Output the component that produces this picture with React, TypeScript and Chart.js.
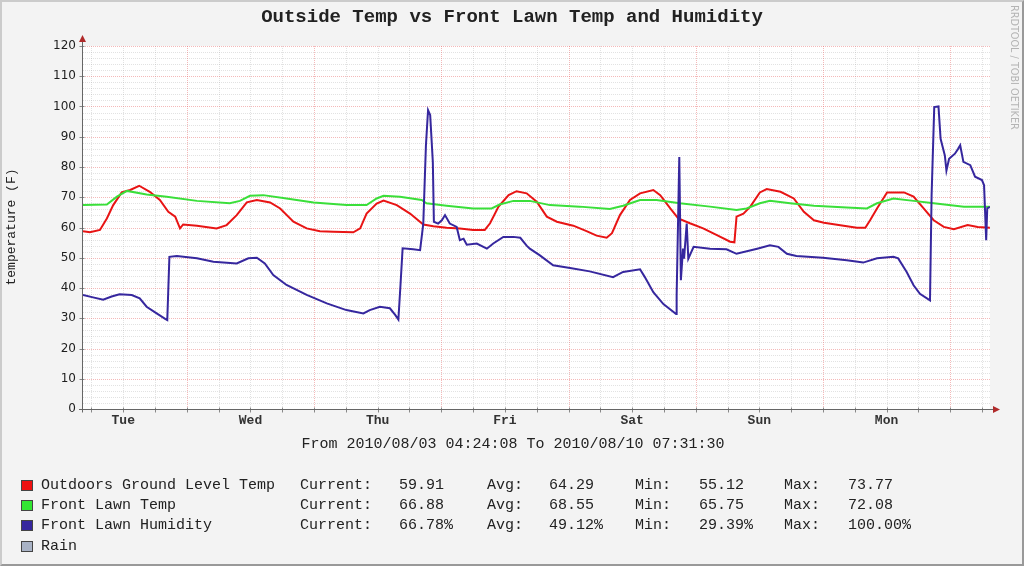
import React, { useEffect, useRef } from "react";
import { Chart, registerables } from "chart.js";

Chart.register(...registerables);

// ---------- text ----------
const TITLE = "Outside Temp vs Front Lawn Temp and Humidity";
const Y_TITLE = "temperature (F)";
const PERIOD = "From 2010/08/03 04:24:08 To 2010/08/10 07:31:30";
const WATERMARK = "RRDTOOL / TOBI OETIKER";

// ---------- axes ----------
const DAY_LABELS = ["Tue", "Wed", "Thu", "Fri", "Sat", "Sun", "Mon"];
const SPAN_HOURS = 171.12; // 2010/08/03 04:24:08 -> 2010/08/10 07:31:30
const FIRST_NOON = 7.598; // hours from start to Tue 12:00
const FIRST_6H = 1.598; // hours from start to Tue 06:00
const Y_MIN = 0;
const Y_MAX = 120;
const Y_MAJOR = 10;
const Y_MINOR = 2;

// ---------- series (hours since start, value) ----------
const redHours = [0, 1.3, 3.2, 4.5, 5.7, 7.3, 8.9, 10.6, 12.6, 14.5,
  16.1, 17.4, 18.3, 18.9, 21.5, 25.2, 27.1, 29.0, 30.9, 32.8,
  35.3, 37.2, 39.7, 42.2, 44.7, 47.2, 51.0, 52.3, 53.5, 55.4,
  56.7, 59.2, 61.7, 64.2, 66.1, 68.6, 71.1, 73.6, 75.8, 76.8,
  78.4, 80.3, 81.8, 83.7, 85.6, 87.5, 89.4, 92.5, 95.0, 96.9,
  98.8, 99.8, 101.3, 103.2, 105.1, 107.6, 108.9, 110.8, 112.3, 114.5,
  117.0, 119.6, 122.1, 122.9, 123.3, 124.6, 125.9, 127.7, 129.0, 131.6,
  134.1, 136.0, 137.9, 139.8, 143.5, 146.0, 147.6, 148.5, 149.8, 151.7,
  154.9, 156.7, 158.6, 160.5, 162.4, 164.3, 166.9, 168.8, 171.1];
const redValues = [58.8, 58.4, 59.2, 63.0, 67.4, 71.6, 72.4, 73.8, 71.8, 69.1,
  65.2, 63.6, 59.7, 61.0, 60.6, 59.7, 60.8, 64.1, 68.3, 69.1,
  68.3, 66.3, 61.9, 59.7, 58.8, 58.6, 58.4, 59.7, 64.6, 67.9,
  68.9, 67.4, 64.6, 61.0, 60.4, 59.9, 59.7, 59.2, 59.2, 61.4,
  66.9, 70.7, 72.0, 71.3, 68.5, 63.6, 61.9, 60.6, 58.8, 57.3,
  56.6, 58.1, 64.1, 69.1, 71.3, 72.4, 70.7, 66.3, 63.0, 61.4,
  59.7, 57.5, 55.3, 55.1, 63.6, 64.6, 66.9, 71.6, 72.7, 71.8,
  69.6, 65.2, 62.4, 61.6, 60.6, 59.9, 59.9, 62.4, 66.3, 71.6,
  71.6, 70.2, 66.3, 62.4, 60.2, 59.4, 60.8, 60.2, 59.9];

const greenHours = [0, 4.5, 6.4, 8.3, 12.0, 15.8, 21.5, 27.7, 29.6, 31.5,
  34.0, 38.4, 43.5, 49.7, 53.5, 55.4, 56.7, 59.8, 63.9, 64.8,
  68.6, 73.6, 77.1, 78.6, 81.2, 84.3, 88.1, 93.7, 99.4, 101.9,
  105.1, 108.2, 112.6, 118.3, 123.3, 125.2, 127.7, 129.6, 133.4, 137.9,
  144.1, 147.9, 149.8, 152.9, 156.7, 160.5, 166.2, 171.1];
const greenValues = [67.4, 67.6, 70.2, 72.1, 70.9, 70.2, 68.8, 68.0, 68.8, 70.5,
  70.7, 69.6, 68.3, 67.4, 67.4, 69.6, 70.5, 70.2, 69.1, 68.0,
  67.2, 66.3, 66.3, 67.6, 68.8, 68.8, 67.4, 66.9, 66.1, 67.2,
  69.1, 69.1, 68.0, 66.9, 65.8, 66.3, 68.0, 68.8, 68.0, 67.2,
  66.6, 66.3, 68.0, 69.6, 68.8, 68.0, 66.9, 66.9];

const blueHours = [0, 1.9, 3.8, 5.4, 6.9, 9.2, 10.7, 12.0, 13.9, 15.5,
  15.9, 16.3, 17.7, 21.5, 24.6, 29.0, 31.2, 32.8, 34.3, 35.9,
  38.4, 42.2, 46.0, 49.7, 52.9, 54.1, 56.0, 57.9, 58.9, 59.5,
  59.9, 60.3, 62.3, 63.6, 64.2, 64.7, 65.1, 65.5, 66.0, 66.2,
  67.0, 67.7, 68.3, 69.2, 70.5, 71.1, 71.8, 72.4, 74.3, 76.2,
  77.4, 79.3, 81.2, 82.5, 83.7, 84.3, 86.2, 88.7, 91.9, 95.6,
  100.0, 101.9, 105.1, 106.0, 107.6, 109.5, 111.9, 112.0, 112.5, 112.8,
  113.2, 113.4, 113.9, 114.2, 115.2, 118.3, 121.4, 123.3, 127.2, 129.6,
  131.2, 132.8, 134.6, 139.6, 144.1, 147.2, 149.8, 152.9, 153.8, 155.4,
  156.7, 157.9, 159.8, 160.1, 160.6, 161.4, 161.8, 162.6, 162.9, 163.4,
  164.5, 165.1, 165.5, 165.8, 166.1, 167.4, 168.3, 169.6, 170.0, 170.4,
  170.6, 171.1];
const blueValues = [37.7, 36.9, 36.1, 37.2, 37.9, 37.7, 36.6, 33.8, 31.6, 29.8,
  29.4, 50.3, 50.6, 49.8, 48.7, 48.1, 49.8, 50.0, 48.1, 44.3,
  41.0, 37.7, 34.9, 32.7, 31.6, 32.7, 33.8, 33.3, 31.1, 29.6,
  41.0, 53.1, 52.8, 52.5, 61.3, 87.2, 98.8, 97.2, 81.7, 61.9,
  61.3, 62.4, 64.1, 61.3, 60.2, 55.8, 56.3, 54.3, 54.7, 53.0,
  54.7, 56.9, 56.9, 56.6, 54.0, 53.0, 50.8, 47.5, 46.6, 45.5,
  43.6, 45.3, 46.2, 43.6, 38.6, 34.7, 31.4, 37.5, 83.3, 42.6,
  53.0, 49.7, 61.3, 49.7, 53.6, 53.0, 52.8, 51.3, 53.0, 54.1,
  53.6, 51.3, 50.6, 50.0, 49.2, 48.4, 49.8, 50.3, 49.8, 45.3,
  40.9, 38.1, 35.9, 70.5, 99.8, 100.0, 89.3, 83.8, 78.8, 82.7,
  84.4, 86.0, 87.2, 84.4, 81.7, 80.6, 76.8, 75.7, 74.0, 55.8,
  66.3, 66.8];

// ---------- legend ----------
const LEGEND_NAMES = ["Outdoors Ground Level Temp", "Front Lawn Temp", "Front Lawn Humidity", "Rain"];
const LEGEND_COLORS = ["#ee1111", "#33e633", "#36279e", "#a9b3c6"];
const LEGEND_CURRENT = ["59.91", "66.88", "66.78%"];
const LEGEND_AVG = ["64.29", "68.55", "49.12%"];
const LEGEND_MIN = ["55.12", "65.75", "29.39%"];
const LEGEND_MAX = ["73.77", "72.08", "100.00%"];

const LINE_COLORS = ["#e81414", "#3adf3a", "#36279e"];
const MAJOR_GRID = "rgba(230, 100, 100, 0.45)";
const MINOR_GRID = "rgba(165, 165, 165, 0.32)";
const AXIS_COLOR = "#666666";
const ARROW_COLOR = "#b02a2a";

const toPoints = (hs: number[], vs: number[]) => hs.map((h, i) => ({ x: h, y: vs[i] }));

const rrdPlugin = {
  id: "rrdGrid",
  beforeDatasetsDraw(chart: any) {
    const { ctx, chartArea: a, scales } = chart;
    const x = scales.x;
    const y = scales.y;
    ctx.save();
    ctx.fillStyle = "#ffffff";
    ctx.fillRect(a.left, a.top, a.right - a.left, a.bottom - a.top);
    ctx.lineWidth = 1;
    ctx.setLineDash([1, 1]);
    const drawH = (v: number, color: string) => {
      const py = Math.round(y.getPixelForValue(v)) + 0.5;
      ctx.strokeStyle = color;
      ctx.beginPath();
      ctx.moveTo(a.left, py);
      ctx.lineTo(a.right, py);
      ctx.stroke();
    };
    const drawV = (h: number, color: string) => {
      const px = Math.round(x.getPixelForValue(h)) + 0.5;
      ctx.strokeStyle = color;
      ctx.beginPath();
      ctx.moveTo(px, a.top);
      ctx.lineTo(px, a.bottom);
      ctx.stroke();
    };
    for (let v = Y_MIN + Y_MINOR; v <= Y_MAX; v += Y_MINOR) {
      if (v % Y_MAJOR !== 0) drawH(v, MINOR_GRID);
    }
    for (let i = 0; FIRST_6H + 6 * i < SPAN_HOURS; i++) {
      if (i % 4 !== 3) drawV(FIRST_6H + 6 * i, MINOR_GRID);
    }
    for (let v = Y_MIN + Y_MAJOR; v <= Y_MAX; v += Y_MAJOR) drawH(v, MAJOR_GRID);
    for (let i = 3; FIRST_6H + 6 * i < SPAN_HOURS; i += 4) drawV(FIRST_6H + 6 * i, MAJOR_GRID);
    ctx.restore();
  },
  afterDatasetsDraw(chart: any) {
    const { ctx, chartArea: a, scales } = chart;
    const x = scales.x;
    const y = scales.y;
    ctx.save();
    ctx.setLineDash([]);
    ctx.lineWidth = 1;
    const y0 = Math.round(y.getPixelForValue(Y_MIN)) + 0.5;
    const x0 = Math.round(a.left) - 0.5;
    // tick marks
    ctx.strokeStyle = "#888888";
    for (let v = Y_MIN; v <= Y_MAX; v += Y_MAJOR) {
      const py = Math.round(y.getPixelForValue(v)) + 0.5;
      ctx.beginPath();
      ctx.moveTo(x0 - 3, py);
      ctx.lineTo(x0 + 2, py);
      ctx.stroke();
    }
    for (let i = 0; FIRST_6H + 6 * i < SPAN_HOURS; i++) {
      const px = Math.round(x.getPixelForValue(FIRST_6H + 6 * i)) + 0.5;
      ctx.beginPath();
      ctx.moveTo(px, y0 - 2);
      ctx.lineTo(px, y0 + 3);
      ctx.stroke();
    }
    // axes
    ctx.strokeStyle = AXIS_COLOR;
    ctx.beginPath();
    ctx.moveTo(a.left - 4, y0);
    ctx.lineTo(a.right + 5, y0);
    ctx.stroke();
    ctx.beginPath();
    ctx.moveTo(x0, y0 + 3);
    ctx.lineTo(x0, a.top - 5);
    ctx.stroke();
    // arrows
    ctx.fillStyle = ARROW_COLOR;
    ctx.beginPath();
    ctx.moveTo(a.right + 10, y0);
    ctx.lineTo(a.right + 3, y0 - 3.5);
    ctx.lineTo(a.right + 3, y0 + 3.5);
    ctx.closePath();
    ctx.fill();
    ctx.beginPath();
    ctx.moveTo(x0, a.top - 11);
    ctx.lineTo(x0 - 3.5, a.top - 4);
    ctx.lineTo(x0 + 3.5, a.top - 4);
    ctx.closePath();
    ctx.fill();
    ctx.restore();
  },
};

const mono = "'Liberation Mono', 'DejaVu Sans Mono', monospace";

export default function App() {
  const canvasRef = useRef<HTMLCanvasElement | null>(null);

  useEffect(() => {
    if (!canvasRef.current) return;
    const chart = new Chart(canvasRef.current, {
      type: "line",
      data: {
        datasets: [
          {
            label: LEGEND_NAMES[2],
            data: toPoints(blueHours, blueValues),
            borderColor: LINE_COLORS[2],
            borderWidth: 2,
            pointRadius: 0,
            tension: 0,
            order: 0,
          },
          {
            label: LEGEND_NAMES[1],
            data: toPoints(greenHours, greenValues),
            borderColor: LINE_COLORS[1],
            borderWidth: 2,
            pointRadius: 0,
            tension: 0,
            order: 1,
          },
          {
            label: LEGEND_NAMES[0],
            data: toPoints(redHours, redValues),
            borderColor: LINE_COLORS[0],
            borderWidth: 2,
            pointRadius: 0,
            tension: 0,
            order: 2,
          },
        ],
      },
      options: {
        animation: false,
        responsive: false,
        events: [],
        layout: { padding: { left: 0, top: 46, right: 34, bottom: 137 } },
        plugins: {
          legend: { display: false },
          tooltip: { enabled: false },
          title: { display: false },
        },
        scales: {
          x: {
            type: "linear",
            min: 0,
            max: SPAN_HOURS,
            grid: { display: false, drawTicks: false },
            border: { display: false },
            afterFit: (s: any) => {
              s.height = 20;
            },
            afterBuildTicks: (s: any) => {
              s.ticks = DAY_LABELS.map((_, i) => ({ value: FIRST_NOON + 24 * i }));
            },
            ticks: {
              autoSkip: false,
              maxRotation: 0,
              minRotation: 0,
              padding: 4,
              color: "#333333",
              font: { family: "'Liberation Mono'", size: 13, weight: "bold" },
              callback: (_v: any, i: number) => DAY_LABELS[i],
            },
          },
          y: {
            type: "linear",
            min: Y_MIN,
            max: Y_MAX,
            afterFit: (s: any) => {
              s.width = 83;
            },
            grid: { display: false, drawTicks: false },
            border: { display: false },
            ticks: {
              stepSize: Y_MAJOR,
              padding: 7,
              color: "#1e1e1e",
              font: { family: "'DejaVu Sans'", size: 12 },
            },
          },
        },
      },
      plugins: [rrdPlugin],
    } as any);
    return () => chart.destroy();
  }, []);

  const rowCenters = [486, 506, 526, 547];

  return (
    <div
      style={{
        position: "fixed",
        left: 0,
        top: 0,
        width: 1024,
        height: 566,
        background: "#f3f3f3",
        overflow: "hidden",
        color: "#222",
      }}
    >
      <div
        style={{
          position: "absolute",
          left: 0,
          top: 0,
          width: 1024,
          height: 566,
          boxSizing: "border-box",
          borderStyle: "solid",
          borderWidth: 2,
          borderColor: "#cbcbcb #999999 #999999 #cbcbcb",
        }}
      />
      <canvas
        ref={canvasRef}
        width={1024}
        height={566}
        style={{ position: "absolute", left: 0, top: 0, width: 1024, height: 566 }}
      />
      <div
        style={{
          position: "absolute",
          left: 0,
          top: 7,
          width: 1024,
          textAlign: "center",
          fontFamily: mono,
          fontWeight: "bold",
          fontSize: 19,
          lineHeight: "20px",
          whiteSpace: "pre",
        }}
      >
        {TITLE}
      </div>
      <div
        style={{
          position: "absolute",
          left: 12 - 70,
          top: 227 - 8,
          width: 140,
          height: 16,
          lineHeight: "16px",
          textAlign: "center",
          fontFamily: mono,
          fontSize: 13,
          transform: "rotate(-90deg)",
          whiteSpace: "pre",
        }}
      >
        {Y_TITLE}
      </div>
      <div
        style={{
          position: "absolute",
          left: 1009,
          top: 5,
          writingMode: "vertical-rl",
          fontFamily: "'DejaVu Sans', sans-serif",
          fontSize: 9.7,
          color: "#b4b4b4",
          whiteSpace: "pre",
        }}
      >
        {WATERMARK}
      </div>
      <div
        style={{
          position: "absolute",
          left: 0,
          top: 435,
          width: 1026,
          textAlign: "center",
          fontFamily: mono,
          fontSize: 15,
          lineHeight: "20px",
          whiteSpace: "pre",
        }}
      >
        {PERIOD}
      </div>
      {LEGEND_NAMES.map((name, i) => {
        const cy = rowCenters[i];
        const textStyle: React.CSSProperties = {
          position: "absolute",
          top: cy - 10,
          lineHeight: "20px",
          fontFamily: mono,
          fontSize: 15,
          whiteSpace: "pre",
        };
        return (
          <React.Fragment key={name}>
            <div
              style={{
                position: "absolute",
                left: 21,
                top: cy - 6,
                width: 12,
                height: 11,
                boxSizing: "border-box",
                background: LEGEND_COLORS[i],
                border: "1px solid #444",
              }}
            />
            <div style={{ ...textStyle, left: 41 }}>{name}</div>
            {i < LEGEND_CURRENT.length && (
              <>
                <div style={{ ...textStyle, left: 300 }}>Current:</div>
                <div style={{ ...textStyle, left: 399 }}>{LEGEND_CURRENT[i]}</div>
                <div style={{ ...textStyle, left: 487 }}>Avg:</div>
                <div style={{ ...textStyle, left: 549 }}>{LEGEND_AVG[i]}</div>
                <div style={{ ...textStyle, left: 635 }}>Min:</div>
                <div style={{ ...textStyle, left: 699 }}>{LEGEND_MIN[i]}</div>
                <div style={{ ...textStyle, left: 784 }}>Max:</div>
                <div style={{ ...textStyle, left: 848 }}>{LEGEND_MAX[i]}</div>
              </>
            )}
          </React.Fragment>
        );
      })}
    </div>
  );
}
